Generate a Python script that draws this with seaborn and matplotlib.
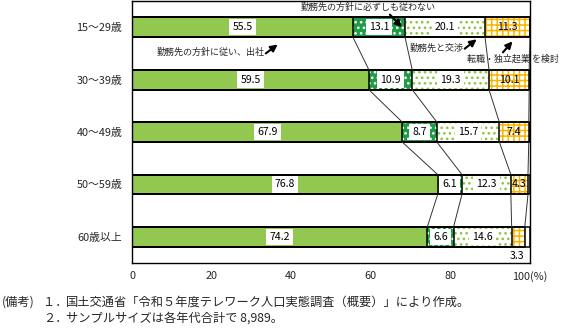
import numpy as np
import pandas as pd
import matplotlib
matplotlib.use("Agg")
import matplotlib.pyplot as plt
import seaborn as sns

# ---- data ----
categories = ["15～29歳", "30～39歳", "40～49歳", "50～59歳", "60歳以上"]
follow_office = [55.5, 59.5, 67.9, 76.8, 74.2]      # 勤務先の方針に従い、出社
not_follow = [13.1, 10.9, 8.7, 6.1, 6.6]            # 勤務先の方針に必ずしも従わない
negotiate = [20.1, 19.3, 15.7, 12.3, 14.6]          # 勤務先と交渉
change_job = [11.3, 10.1, 7.4, 4.3, 3.3]            # 転職・独立起業を検討
other = [0.0, 0.2, 0.3, 0.5, 1.3]                   # その他
xticks = [0, 20, 40, 60, 80, 100]
xtick_labels = ["0", "20", "40", "60", "80", "100(%)"]
note_head = "(備考)"
note_nums = ["１．", "２．"]
note_texts = ["国土交通省「令和５年度テレワーク人口実態調査（概要）」により作成。",
              "サンプルサイズは各年代合計で 8,989。"]

sns.set_theme(style="white")
plt.rcParams['font.family'] = ['Noto Sans CJK JP', 'DejaVu Sans']
plt.rcParams['hatch.linewidth'] = 1.1

fig = plt.figure(figsize=(5.62, 3.31), dpi=100)
ax = fig.add_axes([0.235, 0.205, 0.708, 0.792])

series = [follow_office, not_follow, negotiate, change_job, other]
cum = np.cumsum(np.array(series), axis=0)
styles = [
    dict(fc='#92C850', hatch=None, hc='none'),
    dict(fc='#1E9B45', hatch='...', hc='white'),
    dict(fc='white', hatch='...', hc='#8DC63F'),
    dict(fc='white', hatch='+++', hc='#F7B500'),
    dict(fc='white', hatch=None, hc='none'),
]
BW = 0.38

# filled segments (draw longest first)
for k in reversed(range(len(series))):
    n0 = len(ax.patches)
    df = pd.DataFrame({'cat': categories, 'v': cum[k]})
    sns.barplot(data=df, x='v', y='cat', orient='h', width=BW, color='white',
                saturation=1, ax=ax, errorbar=None)
    st = styles[k]
    for p in ax.patches[n0:]:
        p.set_facecolor(st['fc'])
        p.set_edgecolor(st['hc'])
        p.set_linewidth(0)
        p.set_hatch(st['hatch'])

# outlines
for k in range(len(series)):
    n0 = len(ax.patches)
    df = pd.DataFrame({'cat': categories, 'v': cum[k]})
    sns.barplot(data=df, x='v', y='cat', orient='h', width=BW, color='white',
                saturation=1, ax=ax, errorbar=None)
    for p in ax.patches[n0:]:
        p.set_facecolor('none')
        p.set_edgecolor('black')
        p.set_linewidth(1.1)
        p.set_hatch(None)

# connecting lines
n = len(categories)
for i in range(n - 1):
    for k in range(4):
        ax.plot([cum[k][i], cum[k][i + 1]], [i + BW / 2, i + 1 - BW / 2],
                color='#333333', lw=0.7, zorder=1.5)

# value labels
for k in range(4):
    for i in range(n):
        v = series[k][i]
        if k == 3 and i == n - 1:
            continue
        xc = cum[k][i] - v / 2
        bbox = dict(boxstyle='square,pad=0.3', fc='white', ec='none') if k < 3 else None
        ax.text(xc, i, f"{v:.1f}", ha='center', va='center', fontsize=7.6,
                color='black', bbox=bbox, zorder=5)
ax.text(cum[3][n - 1] - change_job[n - 1] / 2 - 0.3, 4.37, f"{change_job[n - 1]:.1f}",
        ha='center', va='center', fontsize=7.6, color='black')

# annotations
arrow_kw = dict(arrowprops=dict(arrowstyle='-|>', color='black', lw=1.5,
                                mutation_scale=10, shrinkA=0, shrinkB=0))
fs_ann = 6.5
ax.text(59.3, -0.38, "勤務先の方針に必ずしも従わない", ha='center', va='center', fontsize=fs_ann)
ax.annotate("", xy=(67.8, 0.0), xytext=(64.8, -0.24), **arrow_kw)
ax.text(19.7, 0.48, "勤務先の方針に従い、出社", ha='center', va='center', fontsize=fs_ann)
ax.annotate("", xy=(36.6, 0.33), xytext=(33.6, 0.50), **arrow_kw)
ax.text(76.6, 0.40, "勤務先と交渉", ha='center', va='center', fontsize=fs_ann)
ax.annotate("", xy=(86.6, 0.23), xytext=(83.6, 0.41), **arrow_kw)
ax.text(84.3, 0.61, "転職・独立起業 を検討", ha='left', va='center', fontsize=fs_ann,
        clip_on=False)
ax.annotate("", xy=(95.6, 0.27), xytext=(93.2, 0.48), **arrow_kw)

ax.set_xlim(0, 100)
ax.set_ylim(n - 0.5, -0.5)
ax.set_xticks(xticks)
ax.set_xticklabels(xtick_labels, fontsize=7.8)
ax.tick_params(axis='x', direction='in', length=3, width=0.8, color='black', pad=6)
ax.tick_params(axis='y', length=0, pad=7, labelsize=7.8)
ax.set_xlabel("")
ax.set_ylabel("")
for s in ax.spines.values():
    s.set_visible(True)
    s.set_color('black')
    s.set_linewidth(1.0)

fs_note = 8.8
y1, y2 = 1 - 302 / 331, 1 - 318 / 331
fig.text(2 / 562, y1, note_head, fontsize=fs_note, va='center', ha='left')
fig.text(43 / 562, y1, note_nums[0], fontsize=fs_note, va='center', ha='left')
fig.text(66 / 562, y1, note_texts[0], fontsize=fs_note, va='center', ha='left')
fig.text(43 / 562, y2, note_nums[1], fontsize=fs_note, va='center', ha='left')
fig.text(66 / 562, y2, note_texts[1], fontsize=fs_note, va='center', ha='left')

fig.savefig("out.png", dpi=100)
